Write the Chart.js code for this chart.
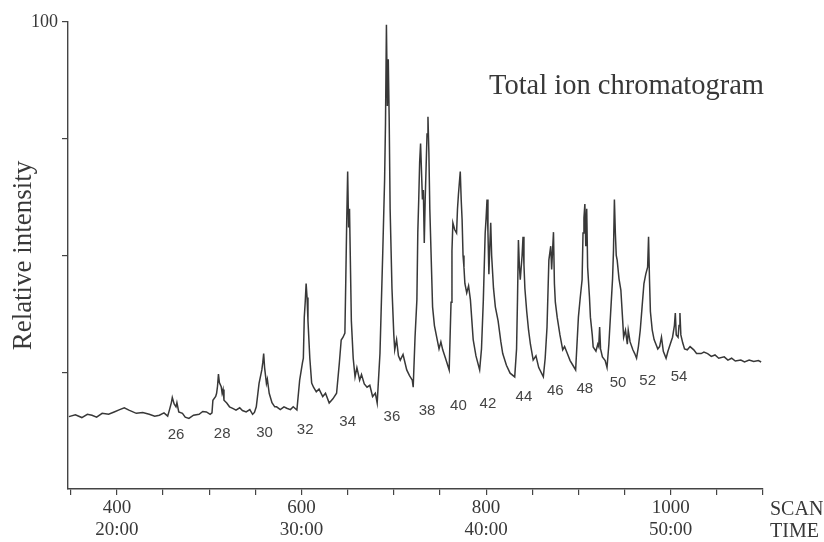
<!DOCTYPE html>
<html>
<head>
<meta charset="utf-8">
<script src="https://cdn.jsdelivr.net/npm/chart.js@4.4.1/dist/chart.umd.min.js"></script>
<style>
  html, body { margin: 0; padding: 0; background: #ffffff; }
  #wrap { width: 824px; height: 542px; }
</style>
</head>
<body>
<div id="wrap"><canvas id="c" width="824" height="542"></canvas></div>
<script>
// ---- data ----
// total ion chromatogram trace: [scan number, relative intensity %]
const chromatogram = [
  [348,15.5],[355,15.9],[362,15.3],[368,16.0],[373,15.8],[378,15.4],[384,16.2],[391,16.0],
  [397,16.5],[403,17.0],[408,17.4],[413,16.9],[421,16.2],[428,16.4],[435,16.0],[441,15.6],
  [446,15.8],[451,16.3],[455,15.6],[457,17.0],[459,18.5],[460,19.6],[462,18.2],[464,17.6],
  [465,18.5],[467,16.5],[471,16.2],[474,15.4],[478,15.1],[483,15.8],[489,16.0],[493,16.6],
  [497,16.5],[501,16.0],[503,16.3],[504,19.0],[507,19.8],[508,20.5],[509,22.0],[510,24.6],
  [511,22.8],[513,21.9],[514,20.5],[515,21.3],[516,19.0],[519,18.4],[522,17.6],[526,17.2],
  [529,16.9],[533,17.4],[536,16.8],[540,16.5],[544,17.0],[547,16.0],[549,16.4],[551,17.6],
  [554,22.6],[557,25.5],[558,27.0],[559,29.0],[560,26.0],[562,22.6],[563,23.5],[565,20.5],
  [568,18.5],[571,17.6],[573,17.6],[577,17.0],[581,17.6],[584,17.3],[588,17.0],[591,17.6],
  [595,16.9],[598,23.3],[601,27.0],[602,28.0],[603,36.8],[604,40.0],[605,44.0],[606,41.0],
  [607,36.0],[609,28.0],[611,22.7],[613,21.8],[616,20.8],[619,21.4],[623,19.8],[626,20.5],
  [630,18.4],[634,19.3],[638,20.5],[641,27.0],[643,31.9],[645,32.5],[647,33.4],[648,45.0],
  [649,57.6],[650,68.0],[651,56.0],[652,60.0],[654,36.0],[656,28.0],[658,24.0],[660,26.0],
  [663,23.3],[665,24.5],[668,22.5],[671,21.8],[674,22.2],[677,19.8],[680,20.5],[682,18.4],
  [685,29.0],[688,50.5],[690,66.0],[691,78.4],[692,99.4],[693,82.0],[694,92.0],[695,79.0],
  [696,60.0],[698,43.0],[700,33.0],[701,29.8],[703,32.0],[705,28.5],[707,27.6],[710,28.8],
  [714,25.5],[717,24.3],[720,23.3],[721,21.8],[723,32.5],[725,40.5],[726,55.0],[727,62.0],
  [728,70.0],[729,74.0],[730,68.0],[731,62.0],[732,64.0],[733,52.7],[734,62.0],[735,69.0],
  [736,76.0],[737,79.7],[738,72.0],[739,60.0],[741,46.0],[742,39.0],[744,35.0],[747,32.0],
  [749,30.0],[751,31.5],[753,29.8],[756,28.0],[760,25.5],[762,40.0],[763,51.0],[764,57.0],
  [766,55.5],[768,54.8],[769,60.0],[770,63.0],[772,68.0],[773,62.0],[774,57.6],[775,50.0],
  [776,47.5],[777,44.0],[779,42.0],[781,43.5],[783,40.5],[786,32.0],[789,28.5],[793,25.5],
  [795,30.0],[797,40.5],[799,54.8],[800,58.0],[801,62.0],[802,55.0],[803,46.0],[804,52.0],
  [805,57.0],[806,50.0],[808,43.0],[810,39.0],[813,36.0],[816,31.5],[818,29.0],[822,26.5],
  [826,24.8],[831,24.0],[833,30.0],[834,40.5],[835,53.3],[836,48.0],[837,44.8],[839,50.0],
  [840,54.0],[841,48.0],[842,43.0],[844,38.0],[846,34.0],[848,31.0],[851,27.6],[854,28.5],
  [857,26.0],[862,24.0],[864,28.0],[866,34.7],[868,49.0],[870,52.0],[871,47.0],[873,55.0],
  [874,44.0],[875,40.0],[877,36.8],[880,33.0],[883,29.8],[885,30.5],[888,29.0],[891,27.5],
  [894,26.5],[897,25.5],[900,36.8],[902,41.0],[904,44.8],[905,54.8],[906,58.0],[907,61.0],
  [908,52.0],[909,60.0],[910,47.5],[912,41.0],[913,36.8],[915,33.0],[916,30.4],[919,29.5],
  [921,31.0],[922,30.5],[923,34.7],[924,30.0],[926,28.3],[929,27.5],[931,26.0],[933,31.0],
  [935,38.0],[937,45.0],[938,51.0],[939,62.0],[940,55.0],[941,50.0],[942,49.0],[944,45.0],
  [946,42.6],[948,36.0],[949,32.5],[951,34.0],[953,31.0],[954,34.0],[956,31.5],[959,29.8],
  [961,29.0],[963,28.0],[965,30.5],[967,34.0],[969,39.0],[971,44.0],[973,46.0],[975,47.5],
  [976,54.0],[977,45.0],[978,38.0],[980,34.0],[982,32.0],[984,31.0],[986,30.0],[988,30.5],
  [990,32.5],[992,29.5],[995,28.0],[997,29.5],[1000,31.3],[1002,32.5],[1004,35.0],[1005,37.7],
  [1006,33.0],[1008,32.5],[1009,35.0],[1010,37.7],[1011,33.0],[1013,31.3],[1015,30.0],[1018,29.8],
  [1021,30.5],[1025,29.8],[1028,29.0],[1033,29.0],[1036,29.3],[1040,29.0],[1044,28.4],[1048,28.7],
  [1052,28.0],[1058,28.3],[1062,27.6],[1066,28.0],[1070,27.4],[1076,27.6],[1080,27.2],[1085,27.6],
  [1090,27.3],[1095,27.5],[1098,27.2]
];

// peak annotations (carbon numbers) and where they sit: scan, intensity level
const peakNames  = ['26','28','30','32','34','36','38','40','42','44','46','48','50','52','54'];
const peakScans  = [464, 514, 560, 604, 650, 698, 736, 770, 802, 841, 875, 907, 943, 975, 1009];
const peakLevels = [11.6,11.8,12.0,12.6,14.3,15.4,16.7,17.8,18.2,19.7,21.0,21.4,22.7,23.1,24.0];

// axis ticks
const xTickValues  = [350,400,450,500,550,600,650,700,750,800,850,900,950,1000,1050,1100];
const majorScans   = [400, 600, 800, 1000];
const majorTimes   = ['20:00', '30:00', '40:00', '50:00'];
const yTickValues  = [25, 50, 75, 100];
const yLabelled    = [100];

const titleText = 'Total ion chromatogram';
const yTitle    = 'Relative intensity';
const xUnits    = ['SCAN', 'TIME'];

// ---- chart ----
const ink = '#383838';
const serif = '"Liberation Serif", "Times New Roman", serif';

const textPlugin = {
  id: 'texts',
  beforeDraw(chart) {
    const ctx = chart.ctx;
    ctx.save();
    ctx.fillStyle = '#ffffff';
    ctx.fillRect(0, 0, chart.width, chart.height);
    ctx.restore();
  },
  afterDraw(chart) {
    const ctx = chart.ctx;
    const xs = chart.scales.x, ys = chart.scales.y;
    const area = chart.chartArea;
    ctx.save();
    // title
    ctx.fillStyle = ink;
    ctx.font = '28.5px ' + serif;
    ctx.textAlign = 'left';
    ctx.textBaseline = 'alphabetic';
    ctx.fillText(titleText, area.left + 421, area.top + 72);
    // peak labels
    ctx.font = '15px "Liberation Sans", Arial, sans-serif';
    ctx.textAlign = 'center';
    ctx.textBaseline = 'middle';
    ctx.fillStyle = '#444';
    peakNames.forEach((n, i) => {
      ctx.fillText(n, xs.getPixelForValue(peakScans[i]), ys.getPixelForValue(peakLevels[i]));
    });
    // SCAN / TIME units at the end of the axis
    ctx.font = '20px ' + serif;
    ctx.textAlign = 'left';
    ctx.fillStyle = ink;
    ctx.fillText(xUnits[0], area.right + 7, area.bottom + 21);
    ctx.fillText(xUnits[1], area.right + 7, area.bottom + 43);
    ctx.restore();
  }
};

new Chart(document.getElementById('c'), {
  type: 'line',
  data: {
    datasets: [{
      data: chromatogram.map(p => ({ x: p[0], y: p[1] })),
      borderColor: ink,
      borderWidth: 1.5,
      pointRadius: 0,
      tension: 0,
      fill: false
    }]
  },
  options: {
    responsive: false,
    animation: false,
    parsing: true,
    layout: { padding: { left: 0, right: 61, top: 22, bottom: 0 } },
    plugins: { legend: { display: false }, tooltip: { enabled: false }, title: { display: false } },
    scales: {
      x: {
        type: 'linear',
        min: 347,
        max: 1100,
        afterBuildTicks: s => { s.ticks = xTickValues.map(v => ({ value: v })); },
        afterFit: s => { s.height = 53; },
        grid: { drawOnChartArea: false, drawTicks: true, tickLength: 6, color: '#444', lineWidth: 1.2 },
        border: { display: true, color: '#444', width: 1.4 },
        ticks: {
          autoSkip: false,
          maxRotation: 0,
          padding: 2,
          color: ink,
          font: { family: serif, size: 19, lineHeight: 1.15 },
          callback: v => {
            const i = majorScans.indexOf(v);
            return i >= 0 ? [String(v), majorTimes[i]] : '';
          }
        }
      },
      y: {
        type: 'linear',
        min: 0,
        max: 100,
        afterBuildTicks: s => { s.ticks = yTickValues.map(v => ({ value: v })); },
        afterFit: s => { s.width = 68; },
        grid: { drawOnChartArea: false, drawTicks: true, tickLength: 6, color: '#444', lineWidth: 1.2 },
        border: { display: true, color: '#444', width: 1.4 },
        ticks: {
          padding: 4,
          color: ink,
          font: { family: serif, size: 18 },
          callback: v => yLabelled.includes(v) ? String(v) : ''
        },
        title: {
          display: true,
          text: yTitle,
          color: ink,
          font: { family: serif, size: 27 },
          padding: { top: 8, bottom: 0 }
        }
      }
    }
  },
  plugins: [textPlugin]
});
</script>
</body>
</html>
